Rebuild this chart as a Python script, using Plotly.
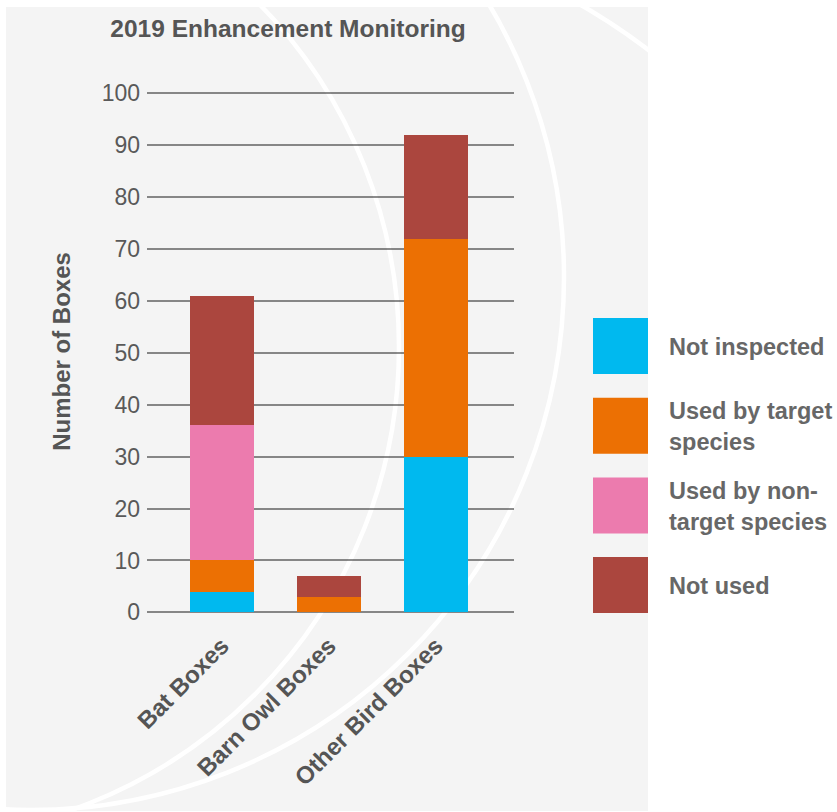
import plotly.graph_objects as go

# ---- data -------------------------------------------------------------
categories = ["Bat Boxes", "Barn Owl Boxes", "Other Bird Boxes"]
series_names = ["Not inspected", "Used by target species",
                "Used by non-target species", "Not used"]
not_inspected = [4, 0, 30]
used_target = [6, 3, 42]
used_nontarget = [26, 0, 0]
not_used = [25, 4, 20]
series_values = [not_inspected, used_target, used_nontarget, not_used]
series_colors = ["#00b9ef", "#ec7003", "#ec7bae", "#ab463e"]
legend_labels = ["Not inspected", "Used by target<br>species",
                 "Used by non-<br>target species", "Not used"]
y_ticks = list(range(0, 101, 10))

# ---- page geometry -----------------------------------------------------
W, H = 837, 812
ML, MR, MT, MB = 147, 323, 88, 197
PW, PH = W - ML - MR, H - MT - MB


def px_x(px):
    return (px - ML) / PW


def px_y(py):
    return (H - MB - py) / PH


FONT = "Liberation Sans, Arial, Helvetica, sans-serif"

fig = go.Figure()
for name, vals, color in zip(series_names, series_values, series_colors):
    fig.add_trace(go.Bar(x=categories, y=vals, name=name, width=0.6,
                         marker=dict(color=color, line=dict(width=0)),
                         showlegend=False))

shapes = []
# light grey backdrop panel
shapes.append(dict(type="rect", xref="paper", yref="paper", layer="below",
                   x0=px_x(6), x1=px_x(648), y0=px_y(811), y1=px_y(7),
                   fillcolor="#f4f4f4", line=dict(width=0)))
# decorative white rings on the backdrop (invisible where the page is white)
rings = [(-92, 347, 491), (31, 277, 533), (260, 560, 641)]
for cx, cy, r in rings:
    shapes.append(dict(type="circle", xref="paper", yref="paper", layer="below",
                       x0=px_x(cx - r), x1=px_x(cx + r),
                       y0=px_y(cy + r), y1=px_y(cy - r),
                       line=dict(color="white", width=4.5)))

annotations = []
# legend swatches and labels
for i, (label, color) in enumerate(zip(legend_labels, series_colors)):
    top = 318 + 79.7 * i
    shapes.append(dict(type="rect", xref="paper", yref="paper",
                       x0=px_x(593), x1=px_x(648),
                       y0=px_y(top + 56), y1=px_y(top),
                       fillcolor=color, line=dict(width=0)))
    annotations.append(dict(xref="paper", yref="paper", x=px_x(667),
                            y=px_y(top + 29), xanchor="left", yanchor="middle",
                            align="left", showarrow=False, text=label,
                            font=dict(family=FONT, size=23.5, color="#676767",
                                      weight="bold")))

fig.update_layout(
    width=W, height=H,
    margin=dict(l=ML, r=MR, t=MT, b=MB),
    paper_bgcolor="white", plot_bgcolor="rgba(0,0,0,0)",
    barmode="stack", bargap=0,
    font=dict(family=FONT, color="#555555"),
    title=dict(text="2019 Enhancement Monitoring", x=288 / W, xref="container",
               xanchor="center", y=1 - 28 / H, yref="container", yanchor="middle",
               font=dict(family=FONT, size=24.5, color="#555555", weight="bold")),
    shapes=shapes,
    annotations=annotations,
    xaxis=dict(type="category", range=[-0.70, 2.73], tickangle=-45,
               showgrid=False, zeroline=False, showline=False,
               ticklabelstandoff=11,
               tickfont=dict(family=FONT, size=24, color="#555555", weight="bold")),
    yaxis=dict(range=[-0.5, 101], tickvals=y_ticks, showgrid=True,
               gridcolor="rgba(0,0,0,0.45)", gridwidth=2, zeroline=False,
               showline=False, layer="above traces", ticklabelstandoff=6,
               tickfont=dict(family=FONT, size=23, color="#595959"),
               title=dict(text="Number of Boxes", standoff=24,
                          font=dict(family=FONT, size=24, color="#555555",
                                    weight="bold"))),
)

fig.write_html("out.html")
